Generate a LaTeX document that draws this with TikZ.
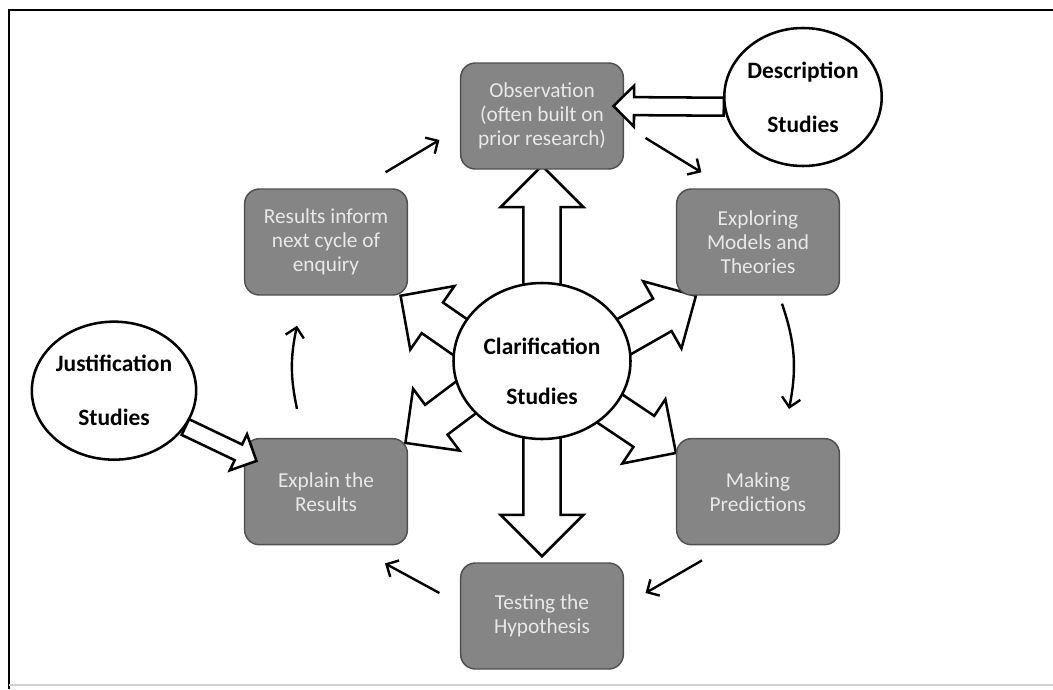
\documentclass[tikz,border=0pt]{standalone}
\usepackage{fontspec}
\setmainfont{Carlito}
\usetikzlibrary{arrows.meta,positioning,shapes.geometric,calc}
\definecolor{boxgray}{HTML}{858585}
\definecolor{boxedge}{HTML}{505050}
\definecolor{boxtext}{HTML}{E8E8E8}
\pgfdeclarelayer{background}
\pgfsetlayers{background,main}
% fat arrow: start, tip, half shaft, half head, back overlap
\newcommand{\blockarrow}[5]{%
  \coordinate (ta) at (#1);
  \coordinate (tb) at (#2);
  \coordinate (ba) at ($(ta)!-#5!(tb)$);
  \coordinate (hb) at ($(tb)!#4!(ta)$);
  \draw[fill=white,line width=1.9pt,line join=miter]
    ($(ba)!#3!90:(tb)$) -- ($(hb)!#3!90:(tb)$) -- ($(hb)!#4!90:(tb)$) -- (tb)
    -- ($(hb)!#4!-90:(tb)$) -- ($(hb)!#3!-90:(tb)$) -- ($(ba)!#3!-90:(tb)$) -- cycle;
}

\begin{document}
\begin{tikzpicture}[>={Straight Barb[length=7pt,width=14pt]},on grid,
    box/.style={rectangle,rounded corners=11pt,fill=boxgray,draw=boxedge,line width=1.1pt,
      minimum width=122pt,minimum height=79.5pt,text=boxtext,align=center,
      font=\fontsize{16}{18}\selectfont},
    study/.style={ellipse,draw,fill=white,line width=1.9pt,inner sep=0pt,align=center,
      font=\bfseries\fontsize{17.6}{21}\selectfont},
    cyc/.style={->,line width=1.8pt}]
  \useasboundingbox (0,0) rectangle (789.75pt,-516.75pt);
  \draw[line width=1.6pt] (789.75pt,-7.5pt) -- (6.5pt,-7.5pt) -- (6.5pt,-516.75pt);
  \draw[gray!35,line width=0.8pt] (6.5pt,-513.75pt) -- (789.75pt,-513.75pt);

  \node[study,minimum width=132.75pt,minimum height=117pt] (clar) at (406.5pt,-270.75pt)
       {\rule{0pt}{28pt}Clarification\\[17pt]Studies};
  \node[box] (obs)  [above=183.75pt of clar]              {Observation\\(often built on\\prior research)};
  \node[box] (test) [below=191.25pt of clar]              {Testing the\\Hypothesis};
  \node[box] (res)  [above left=89.25pt and 162pt of clar]  {Results inform\\next cycle of\\enquiry};
  \node[box] (mod)  [above right=89.25pt and 162pt of clar] {Exploring\\Models and\\Theories};
  \node[box] (expl) [below left=98pt and 162pt of clar]     {Explain the\\Results};
  \node[box] (pred) [below right=98pt and 162pt of clar]    {Making\\Predictions};
  \node[study,minimum width=107.25pt,minimum height=103.5pt] (desc)
       [above right=14.25pt and 195.75pt of obs] {Description\\[19.5pt]Studies};
  \node[study,minimum width=107.25pt,minimum height=103.5pt] (just)
       [above left=75.75pt and 159pt of expl] {Justification\\[19.5pt]Studies};

  % the cycle
  \draw[cyc] ([shift={(-16.9pt,12pt)}]res.north east) -- ([shift={(-15.4pt,-18pt)}]obs.west);
  \draw[cyc] ([shift={(16.1pt,-16.5pt)}]obs.east) -- ([shift={(19.1pt,12pt)}]mod.north west);
  \draw[cyc] ([shift={(18pt,-6pt)}]mod.south) to[bend left=15] ([shift={(23.25pt,21.75pt)}]pred.north);
  \draw[cyc] ([shift={(-42pt,-11.25pt)}]pred.south) -- ([shift={(16.1pt,17.25pt)}]test.east);
  \draw[cyc] ([shift={(-15.4pt,17.25pt)}]test.west) -- ([shift={(44.25pt,-13.5pt)}]expl.south);
  \draw[cyc] ([shift={(-21.75pt,21.75pt)}]expl.north) to[bend left=12] ([shift={(-21.75pt,-22.5pt)}]res.south);

  % fat arrows out of the middle
  \begin{pgfonlayer}{background}
    \blockarrow{clar.north}{[yshift=3pt]obs.south}{14pt}{31pt}{8pt}
    \blockarrow{clar.south}{[yshift=4.5pt]test.north}{14pt}{31pt}{8pt}
    \blockarrow{clar.17}{[xshift=15pt]mod.south west}{14pt}{29pt}{8pt}
    \blockarrow{clar.163}{[xshift=-5.6pt]res.south east}{14pt}{29pt}{8pt}
    \blockarrow{clar.206}{[shift={(-2pt,-3.75pt)}]expl.north east}{14pt}{29pt}{8pt}
    \blockarrow{clar.325}{[yshift=-11.25pt]pred.north west}{14pt}{29pt}{8pt}
  \end{pgfonlayer}
  \blockarrow{desc.187}{[shift={(-7.9pt,7.5pt)}]obs.east}{6.75pt}{15.4pt}{0pt}
  \blockarrow{just.-27.5}{[shift={(9.4pt,-17.25pt)}]expl.north west}{6.5pt}{15pt}{0pt}
\end{tikzpicture}
\end{document}
